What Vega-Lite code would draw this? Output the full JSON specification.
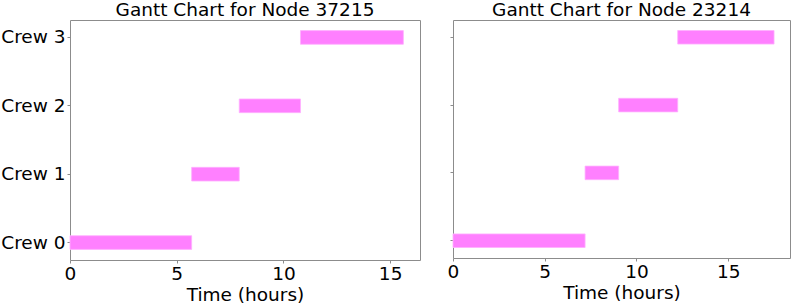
{
  "$schema": "https://vega.github.io/schema/vega-lite/v6.json",
  "padding": {"left": 0, "top": 0, "right": 2, "bottom": 0},
  "background": "white",
  "spacing": 25,
  "datasets": {
    "tasks": [
      {"node": "37215", "crew": "Crew 0", "start": 0, "end": 5.7},
      {"node": "37215", "crew": "Crew 1", "start": 5.7, "end": 7.93},
      {"node": "37215", "crew": "Crew 2", "start": 7.93, "end": 10.8},
      {"node": "37215", "crew": "Crew 3", "start": 10.8, "end": 15.62},
      {"node": "23214", "crew": "Crew 0", "start": 0, "end": 7.2},
      {"node": "23214", "crew": "Crew 1", "start": 7.2, "end": 9.03},
      {"node": "23214", "crew": "Crew 2", "start": 9.03, "end": 12.25},
      {"node": "23214", "crew": "Crew 3", "start": 12.25, "end": 17.5}
    ]
  },
  "config": {
    "font": "DejaVu Sans",
    "view": {"stroke": "#8c8c8c", "strokeWidth": 1},
    "title": {"fontSize": 18.5, "fontWeight": "normal", "color": "black", "offset": 1, "font": "DejaVu Sans"},
    "axis": {
      "labelFont": "DejaVu Sans", "titleFont": "DejaVu Sans",
      "labelFontSize": 18.5, "titleFontSize": 18.5, "titleFontWeight": "normal",
      "labelColor": "black", "titleColor": "black",
      "grid": false, "domain": false,
      "tickColor": "#8c8c8c", "tickSize": 3, "labelPadding": 1
    }
  },
  "hconcat": [
    {
      "title": "Gantt Chart for Node 37215",
      "width": 350,
      "height": 240,
      "data": {"name": "tasks"},
      "transform": [{"filter": "datum.node == '37215'"}],
      "mark": {"type": "bar", "color": "#ff80ff", "stroke": "#ffb0ff", "strokeWidth": 0.8},
      "encoding": {
        "y": {
          "field": "crew", "type": "ordinal",
          "sort": ["Crew 3", "Crew 2", "Crew 1", "Crew 0"],
          "scale": {"paddingInner": 0.8, "paddingOuter": 0.155},
          "axis": {"title": null, "labelPadding": 2}
        },
        "x": {
          "field": "start", "type": "quantitative",
          "scale": {"domain": [0, 16.4], "nice": false, "zero": false},
          "axis": {"title": "Time (hours)", "values": [0, 5, 10, 15], "titlePadding": 3, "labelFlush": false}
        },
        "x2": {"field": "end"}
      }
    },
    {
      "title": "Gantt Chart for Node 23214",
      "width": 337,
      "height": 238,
      "data": {"name": "tasks"},
      "transform": [{"filter": "datum.node == '23214'"}],
      "mark": {"type": "bar", "color": "#ff80ff", "stroke": "#ffb0ff", "strokeWidth": 0.8},
      "encoding": {
        "y": {
          "field": "crew", "type": "ordinal",
          "sort": ["Crew 3", "Crew 2", "Crew 1", "Crew 0"],
          "scale": {"paddingInner": 0.8, "paddingOuter": 0.155},
          "axis": {"title": null, "labels": false}
        },
        "x": {
          "field": "start", "type": "quantitative",
          "scale": {"domain": [0, 18.37], "nice": false, "zero": false},
          "axis": {"title": "Time (hours)", "values": [0, 5, 10, 15], "titlePadding": 3, "labelFlush": false}
        },
        "x2": {"field": "end"}
      }
    }
  ]
}
